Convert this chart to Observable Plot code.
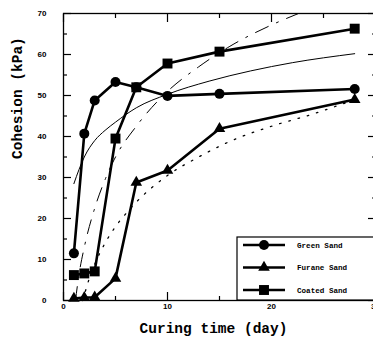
<!DOCTYPE html>
<html><head><meta charset="utf-8">
<script src="https://cdn.jsdelivr.net/npm/d3@7"></script>
<script src="https://cdn.jsdelivr.net/npm/@observablehq/plot@0.6"></script>
<style>
body{margin:0;background:#fff}
#chart{position:relative;width:373px;height:341px;overflow:hidden}
</style>
</head><body><div id="chart"></div>
<script>
// Measured series (curing time in days, cohesion in kPa)
const days = [1, 2, 3, 5, 7, 10, 15, 28];
const greenSand  = [11.5, 40.7, 48.8, 53.3, 52.0, 49.9, 50.4, 51.6];
const furaneSand = [0.5, 0.7, 0.8, 5.4, 28.8, 31.7, 41.9, 49.0];
const coatedSand = [6.2, 6.6, 7.1, 39.5, 52.0, 57.8, 60.7, 66.3];

// Thin fitted curves
const solidFitDays = [1, 1.5, 2, 3, 4, 5, 7, 10, 14, 18, 22, 28];
const solidFitVals = [28.5, 32, 35, 39, 41.5, 43.5, 47, 50.3, 53.5, 56, 58, 60.2];
const dashDotDays  = [1.15, 1.5, 2, 3, 4, 5, 7, 10, 13, 16, 20, 22.6];
const dashDotVals  = [0, 6.5, 13, 22.5, 29.5, 35, 42.5, 51, 57, 62, 67.2, 70];
const dottedDays   = [1.85, 2.5, 3, 4, 5, 6, 7, 10, 13, 16, 20, 24, 28];
const dottedVals   = [0, 5.5, 8.8, 14, 18, 21.2, 24, 30.5, 35, 38.8, 42.5, 45.5, 49];

// Axis ticks
const xTicks = [0, 10, 20, 30];
const xMinor = [5, 15, 25];
const yTicks = [0, 10, 20, 30, 40, 50, 60, 70];
const yMinor = [5, 15, 25, 35, 45, 55, 65];

const seriesNames = ["Green Sand", "Furane Sand", "Coated Sand"];
const seriesSymbols = ["circle", "triangle", "square"];

const rows = (xs, ys, name) => xs.map((d, i) => ({day: d, val: ys[i], name}));
const green = rows(days, greenSand, seriesNames[0]);
const furane = rows(days, furaneSand, seriesNames[1]);
const coated = rows(days, coatedSand, seriesNames[2]);
const solidFit = rows(solidFitDays, solidFitVals);
const dashDot = rows(dashDotDays, dashDotVals);
const dotted = rows(dottedDays, dottedVals);

const tickFont = {fontSize: 8, fontWeight: "bold", fontFamily: "Liberation Sans"};
const tk = (ticks, anchor, size, isX) => (isX ? Plot.axisX : Plot.axisY)(ticks, {anchor, tickSize: size, text: null, label: null, strokeWidth: 1.2});

const plot = Plot.plot({
  width: 373, height: 341,
  marginLeft: 63, marginTop: 13, marginBottom: 41, marginRight: -2,
  x: {domain: [0, 30], range: [63, 375], axis: null},
  y: {domain: [0, 70], range: [300, 13], axis: null},
  style: {background: "#fff", overflow: "visible"},
  marks: [
    Plot.frame({stroke: "#000", strokeWidth: 1.3}),
    // inward ticks
    tk(yTicks, "left", -8, false), tk(yMinor, "left", -4, false),
    tk(yTicks, "right", -8, false), tk(yMinor, "right", -4, false),
    tk(xTicks, "bottom", -8, true), tk(xMinor, "bottom", -4, true),
    tk(xTicks, "top", -8, true), tk(xMinor, "top", -4, true),
    // tick labels
    Plot.axisY(yTicks, {anchor: "left", tickSize: 0, tickPadding: 17, label: null, ...tickFont}),
    Plot.axisX(xTicks, {anchor: "bottom", tickSize: 0, tickPadding: 3, label: null, ...tickFont}),
    // axis titles
    Plot.text(["Curing time (day)"], {frameAnchor: "bottom", dy: 32, dx: -6, fontFamily: "Liberation Mono", fontWeight: "bold", fontSize: 14.5, fill: "#000"}),
    Plot.text(["Cohesion (kPa)"], {frameAnchor: "left", dx: -46, dy: 2, rotate: -90, fontFamily: "Liberation Mono", fontWeight: "bold", fontSize: 14.5, fill: "#000"}),
    // thin fitted curves
    Plot.line(solidFit, {x: "day", y: "val", stroke: "#000", strokeWidth: 1, curve: "monotone-x"}),
    Plot.line(dashDot, {x: "day", y: "val", stroke: "#000", strokeWidth: 1, strokeDasharray: "14,9,2,9", curve: "monotone-x"}),
    Plot.line(dotted, {x: "day", y: "val", stroke: "#000", strokeWidth: 1.3, strokeDasharray: "1.6,8", curve: "monotone-x"}),
    // data series
    Plot.line(green, {x: "day", y: "val", stroke: "#000", strokeWidth: 2.6}),
    Plot.line(furane, {x: "day", y: "val", stroke: "#000", strokeWidth: 2.6}),
    Plot.line(coated, {x: "day", y: "val", stroke: "#000", strokeWidth: 2.6}),
    Plot.dot(green, {x: "day", y: "val", symbol: "circle", r: 5, fill: "#000"}),
    Plot.dot(furane, {x: "day", y: "val", symbol: "triangle", r: 4.3, fill: "#000"}),
    Plot.dot(coated, {x: "day", y: "val", symbol: "square", r: 5.6, fill: "#000"})
  ]
});
document.getElementById("chart").appendChild(plot);

// Legend box (layout element)
const svg = d3.select(plot);
const lg = svg.append("g").attr("text-anchor", "start");
lg.append("rect").attr("x", 237).attr("y", 237).attr("width", 140).attr("height", 63)
  .attr("fill", "#fff").attr("stroke", "#000").attr("stroke-width", 1.2);
const symMap = {circle: d3.symbolCircle, triangle: d3.symbolTriangle, square: d3.symbolSquare};
const symR = {circle: 5, triangle: 4.3, square: 5.6};
seriesNames.forEach((name, i) => {
  const y = 245 + i * 22.5;
  lg.append("line").attr("x1", 243).attr("x2", 285).attr("y1", y).attr("y2", y)
    .attr("stroke", "#000").attr("stroke-width", 2.6);
  const s = seriesSymbols[i];
  lg.append("path").attr("transform", `translate(264,${y})`)
    .attr("d", d3.symbol(symMap[s], Math.PI * symR[s] * symR[s])()).attr("fill", "#000");
  lg.append("text").attr("x", 297).attr("y", y).attr("dy", "0.35em")
    .attr("text-anchor", "start")
    .attr("font-family", "Liberation Mono").attr("font-weight", "bold").attr("font-size", 7.6)
    .attr("fill", "#000").text(name);
});
</script>
</body></html>
